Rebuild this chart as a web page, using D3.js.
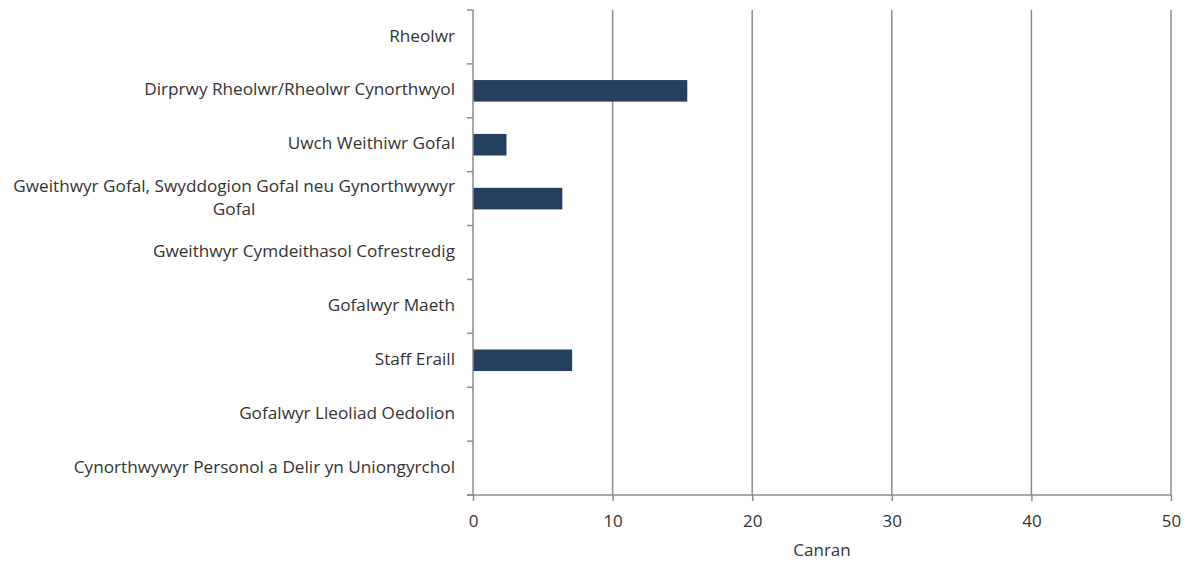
<!DOCTYPE html>
<html>
<head>
  <meta charset="UTF-8">
  <title>Canran</title>
  <script src="https://d3js.org/d3.v7.min.js"></script>
  <style>
    body { margin: 0; background: #fff; }
    text { font-family: "Open Sans", sans-serif; fill: #333; }
    .cat-label { font-size: 17.2px; }
    .axis-label { font-size: 17px; }
  </style>
</head>
<body>
  <svg width="1189" height="566"></svg>
  <script>
    const categories = [
      "Rheolwr",
      "Dirprwy Rheolwr/Rheolwr Cynorthwyol",
      "Uwch Weithiwr Gofal",
      "Gweithwyr Gofal, Swyddogion Gofal neu Gynorthwywyr|Gofal",
      "Gweithwyr Cymdeithasol Cofrestredig",
      "Gofalwyr Maeth",
      "Staff Eraill",
      "Gofalwyr Lleoliad Oedolion",
      "Cynorthwywyr Personol a Delir yn Uniongyrchol"
    ];
    const values = [0, 15.35, 2.4, 6.4, 0, 0, 7.1, 0, 0];
    const xTicks = [0, 10, 20, 30, 40, 50];
    const xTitle = "Canran";

    const svg = d3.select("svg");
    const margin = { top: 10, right: 18, bottom: 71, left: 473 };
    const width = 1189 - margin.left - margin.right;
    const height = 566 - margin.top - margin.bottom;

    const x = d3.scaleLinear().domain([0, 50]).range([0, width]);
    const y = d3.scaleBand().domain(categories).range([0, height]).paddingInner(0).paddingOuter(0);

    const g = svg.append("g").attr("transform", `translate(${margin.left},${margin.top})`);

    // vertical gridlines
    g.selectAll(".grid")
      .data(xTicks.slice(1))
      .enter().append("line")
      .attr("x1", d => x(d)).attr("x2", d => x(d))
      .attr("y1", 0).attr("y2", height)
      .attr("stroke", "#8c8c8c").attr("stroke-width", 1.5);

    // bars
    const barH = y.bandwidth() * 0.4;
    g.selectAll(".bar")
      .data(values)
      .enter().append("rect")
      .attr("x", x(0))
      .attr("y", (d, i) => y(categories[i]) + (y.bandwidth() - barH) / 2)
      .attr("width", d => x(d) - x(0))
      .attr("height", barH)
      .attr("fill", "#243f60");

    // y axis line + ticks at band boundaries
    g.append("line")
      .attr("x1", 0).attr("x2", 0).attr("y1", 0).attr("y2", height)
      .attr("stroke", "#8c8c8c").attr("stroke-width", 1.5);
    const bounds = d3.range(categories.length + 1).map(i => i * y.step());
    g.selectAll(".ytick")
      .data(bounds)
      .enter().append("line")
      .attr("x1", -6).attr("x2", 0)
      .attr("y1", d => d).attr("y2", d => d)
      .attr("stroke", "#8c8c8c").attr("stroke-width", 1.5);

    // category labels
    const labelX = -18;
    categories.forEach(c => {
      const lines = c.split("|");
      const cy = y(c) + y.bandwidth() / 2;
      const lh = 23;
      const t = g.append("text")
        .attr("class", "cat-label")
        .attr("dominant-baseline", "middle");
      if (lines.length === 1) {
        t.attr("x", labelX).attr("y", cy).attr("text-anchor", "end").text(lines[0]);
      } else {
        // measure longest line, centre lines within right-aligned block
        const tmp = g.append("text").attr("class", "cat-label").text(lines[0]);
        const w = tmp.node().getComputedTextLength();
        tmp.remove();
        t.attr("text-anchor", "middle");
        lines.forEach((ln, k) => {
          t.append("tspan")
            .attr("x", labelX - w / 2)
            .attr("y", cy + (k - (lines.length - 1) / 2) * lh)
            .text(ln);
        });
      }
    });

    // x axis
    const xAxis = g.append("g")
      .attr("transform", `translate(0,${height})`)
      .call(d3.axisBottom(x).tickValues(xTicks).tickSize(6).tickSizeOuter(0).tickPadding(14));
    xAxis.select(".domain").attr("stroke", "#8c8c8c").attr("stroke-width", 1.5);
    xAxis.selectAll(".tick line").attr("stroke", "#8c8c8c").attr("stroke-width", 1.5);
    xAxis.selectAll(".tick text").attr("class", "axis-label").attr("fill", "#333");
    xAxis.select(".domain").attr("d", `M-6,0H${width}`);

    g.append("text")
      .attr("class", "axis-label")
      .attr("x", width / 2)
      .attr("y", height + 56)
      .attr("text-anchor", "middle")
      .attr("dominant-baseline", "middle")
      .text(xTitle);
  </script>
</body>
</html>
